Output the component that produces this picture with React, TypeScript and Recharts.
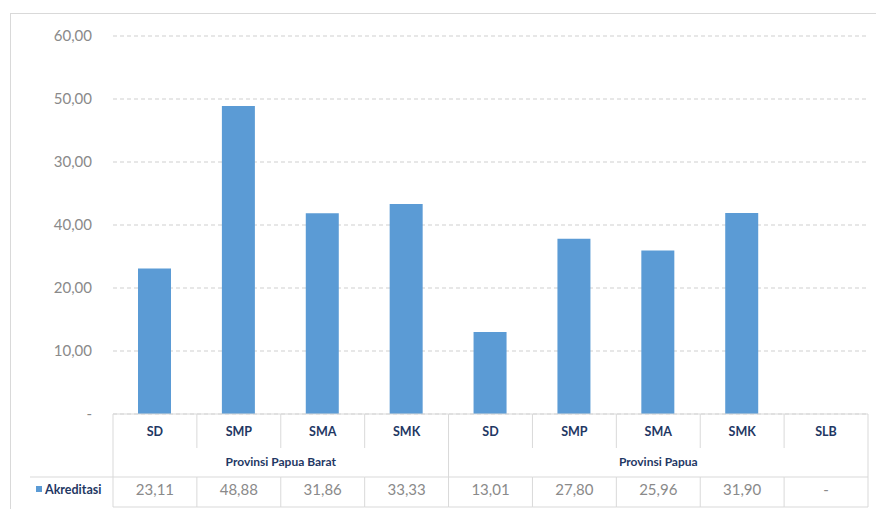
import React from "react";
import { BarChart, Bar, XAxis, YAxis, CartesianGrid } from "recharts";

const categories = ["SD", "SMP", "SMA", "SMK", "SD", "SMP", "SMA", "SMK", "SLB"];
const akreditasi: (number | null)[] = [23.11, 48.88, 31.86, 33.33, 13.01, 27.8, 25.96, 31.9, null];
const groupNames = ["Provinsi Papua Barat", "Provinsi Papua"];
const groupSizes = [4, 5];
const seriesName = "Akreditasi";
const yTicks = [0, 10, 20, 30, 40, 50, 60];
const yTickLabels = ["-", "10,00", "20,00", "40,00", "30,00", "50,00", "60,00"];

const data = categories.map((c, i) => ({ id: String(i), cat: c, value: akreditasi[i] }));

const W = 876;
const H = 509;
const X_AXIS_H = 95;
const M = { top: 36, right: 8, bottom: 0, left: 0 };
const Y_AXIS_W = 113;
const PLOT_W = W - M.left - M.right - Y_AXIS_W;
const BAND = PLOT_W / categories.length;
const BLUE = "#5b9bd5";
const LINE = "#d9d9d9";
const NAVY = "#1f3864";
const FONT = "Lato, 'Open Sans', sans-serif";

const fmt = (v: number | null) => (v == null ? "-" : v.toFixed(2).replace(".", ","));

const groupStarts: number[] = [];
{
  let s = 0;
  groupSizes.forEach((g) => {
    groupStarts.push(s);
    s += g;
  });
}

const TableTick = (props: any) => {
  const { x, y, payload } = props;
  const i = payload.index as number;
  const left = x - BAND / 2;
  const right = x + BAND / 2;
  const row1 = y + 34;
  const row2 = y + 63;
  const bottom = y + 93;
  const gi = groupStarts.indexOf(i);
  const isGroupStart = gi >= 0;
  const last = i === categories.length - 1;
  return (
    <g>
      <line x1={left} x2={right} y1={y} y2={y} stroke={LINE} />
      <line x1={left} x2={left} y1={y} y2={isGroupStart ? row2 : row1} stroke={LINE} />
      {last && <line x1={right} x2={right} y1={y} y2={bottom} stroke={LINE} />}
      <line x1={left} x2={right} y1={row2} y2={row2} stroke={LINE} />
      <line x1={left} x2={left} y1={row2} y2={bottom} stroke={LINE} />
      <line x1={left} x2={right} y1={bottom} y2={bottom} stroke={LINE} />
      <text x={x} y={y + 22} textAnchor="middle" fill={NAVY} fontFamily={FONT} fontWeight={700} fontSize={12.5}>
        {categories[i]}
      </text>
      {isGroupStart && (
        <text
          x={left + (groupSizes[gi] * BAND) / 2}
          y={y + 52}
          textAnchor="middle"
          fill={NAVY}
          fontFamily={FONT}
          fontWeight={700}
          fontSize={12}
        >
          {groupNames[gi]}
        </text>
      )}
      <text x={x} y={y + 81} textAnchor="middle" fill="#8a8a8a" fontFamily={FONT} fontSize={15}>
        {fmt(akreditasi[i])}
      </text>
      {i === 0 && (
        <g>
          <line x1={30} x2={left} y1={row2} y2={row2} stroke={LINE} />
          <rect x={36} y={y + 72} width={6} height={6} fill={BLUE} />
          <text x={45} y={y + 80} fill={NAVY} fontFamily={FONT} fontWeight={700} fontSize={12.5}>
            {seriesName}
          </text>
        </g>
      )}
    </g>
  );
};

export default function App() {
  return (
    <div style={{ position: "absolute", left: 0, top: 0, width: W, height: H, background: "#fff" }}>
      <div
        style={{
          position: "absolute",
          left: 10,
          top: 13,
          width: W,
          height: H,
          borderLeft: "1px solid #d9d9d9",
          borderTop: "1px solid #d9d9d9",
        }}
      />
      <BarChart width={W} height={H} data={data} margin={M} barCategoryGap={0}>
        <CartesianGrid vertical={false} stroke="#cfcfcf" strokeDasharray="4 3" />
        <XAxis
          dataKey="id"
          axisLine={false}
          tickLine={false}
          tickSize={0}
          tickMargin={0}
          height={X_AXIS_H}
          interval={0}
          tick={<TableTick />}
        />
        <YAxis
          width={Y_AXIS_W}
          domain={[0, 60]}
          ticks={yTicks}
          axisLine={false}
          tickLine={false}
          tickSize={0}
          tickMargin={21}
          tickFormatter={(v: number) => yTickLabels[yTicks.indexOf(v)]}
          tick={{ fill: "#8a8a8a", fontFamily: FONT, fontSize: 15 }}
        />
        <Bar dataKey="value" fill={BLUE} barSize={33} isAnimationActive={false} />
      </BarChart>
    </div>
  );
}
